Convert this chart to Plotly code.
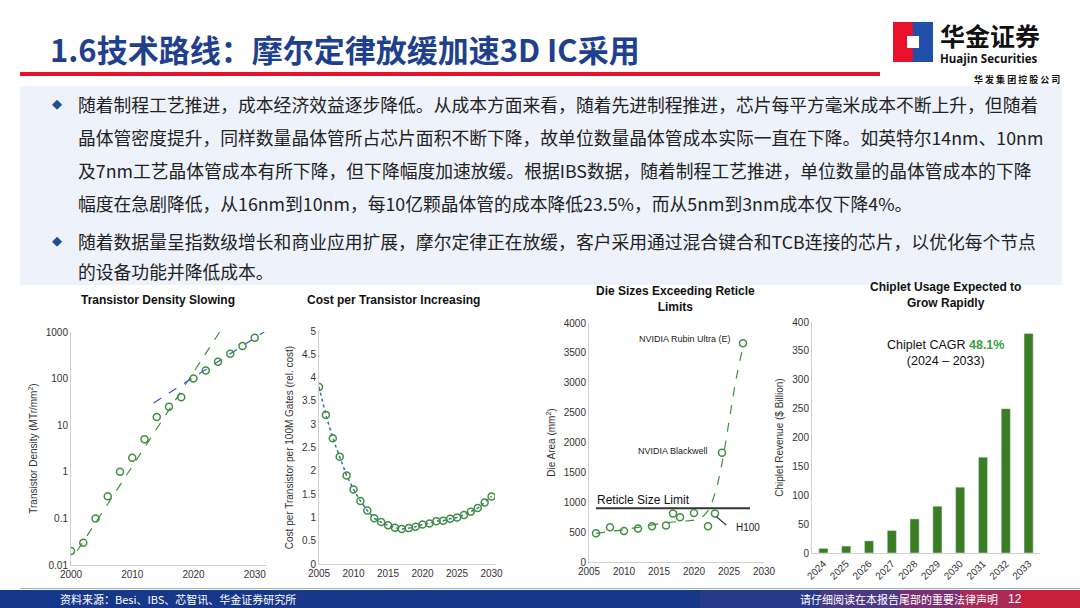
import plotly.graph_objects as go

# ---- data ----
dens_years = [2000, 2002, 2004, 2006, 2008, 2010, 2012, 2014, 2016, 2018, 2020, 2022, 2024, 2026, 2028, 2030]
dens_vals = [0.02, 0.03, 0.1, 0.3, 1, 2, 5, 15, 25, 40, 100, 150, 230, 340, 500, 750]
dens_fast_x = [2001, 2025]
dens_fast_y = [0.02, 1400]
dens_slow_x = [2013.5, 2032]
dens_slow_y = [30, 1100]

cost_years = list(range(2005, 2031))
cost_vals = [3.8, 3.2, 2.7, 2.3, 1.9, 1.6, 1.35, 1.15, 0.98, 0.9, 0.83, 0.78, 0.75, 0.77, 0.8,
             0.85, 0.87, 0.92, 0.93, 0.97, 1.0, 1.05, 1.12, 1.2, 1.32, 1.45]

die_years = [2006, 2008, 2010, 2012, 2014, 2016, 2017, 2018, 2020, 2022, 2023, 2024, 2027]
die_vals = [480, 580, 520, 560, 600, 610, 810, 750, 820, 600, 810, 1830, 3660]
die_trend_x = [2006, 2008, 2010, 2012, 2014, 2016, 2018, 2020, 2021, 2022, 2023, 2024, 2025, 2026, 2027]
die_trend_y = [480, 510, 540, 580, 620, 655, 680, 700, 740, 860, 1150, 1650, 2350, 3050, 3600]
reticle_x = [2006, 2028]
reticle_y = [900, 900]

chip_years = ['2024', '2025', '2026', '2027', '2028', '2029', '2030', '2031', '2032', '2033']
chip_vals = [8, 12, 21, 39, 59, 81, 114, 166, 250, 380]

W, H = 1080, 608
FONT = 'Liberation Sans, Arial, sans-serif'
CJK = 'Noto Sans CJK SC, sans-serif'
GREEN = '#3f8f3f'


def px(x):
    return x / W


def py(y):
    return 1 - y / H


fig = go.Figure()

# chart 1
fig.add_trace(go.Scatter(x=dens_fast_x, y=dens_fast_y, mode='lines', xaxis='x', yaxis='y',
                         line=dict(color=GREEN, dash='dash', width=1.2)))
fig.add_trace(go.Scatter(x=dens_slow_x, y=dens_slow_y, mode='lines', xaxis='x', yaxis='y',
                         line=dict(color='#4050e0', dash='dash', width=1.2)))
fig.add_trace(go.Scatter(x=dens_years, y=dens_vals, mode='markers', xaxis='x', yaxis='y',
                         marker=dict(symbol='circle-open', size=7, color=GREEN, line=dict(width=1.5))))
# chart 2
fig.add_trace(go.Scatter(x=cost_years, y=cost_vals, mode='lines+markers', xaxis='x2', yaxis='y2',
                         line=dict(color='#3070a0', dash='dot', width=1.5),
                         marker=dict(symbol='circle-open', size=7, color=GREEN, line=dict(width=1.5))))
# chart 3
fig.add_trace(go.Scatter(x=reticle_x, y=reticle_y, mode='lines', xaxis='x3', yaxis='y3',
                         line=dict(color='#333333', width=2)))
fig.add_trace(go.Scatter(x=die_trend_x, y=die_trend_y, mode='lines', xaxis='x3', yaxis='y3',
                         line=dict(color=GREEN, dash='dash', width=1.2, shape='spline')))
fig.add_trace(go.Scatter(x=die_years, y=die_vals, mode='markers', xaxis='x3', yaxis='y3',
                         marker=dict(symbol='circle-open', size=7, color=GREEN, line=dict(width=1.5))))
# chart 4
fig.add_trace(go.Bar(x=chip_years, y=chip_vals, xaxis='x4', yaxis='y4', marker_color='#3a7d22', width=0.4))

tick = dict(family=FONT, size=10, color='#333')
ax = dict(showgrid=False, zeroline=False, showline=True, linecolor='#d0d0d0', ticks='', tickfont=tick,
          automargin=False)
ttl = dict(family=FONT, size=10, color='#333')

fig.update_layout(
    width=W, height=H, margin=dict(l=0, r=0, t=0, b=0), showlegend=False,
    paper_bgcolor='white', plot_bgcolor='rgba(0,0,0,0)',
    xaxis=dict(ax, domain=[px(71), px(267)], range=[2000, 2032], tickvals=[2000, 2010, 2020, 2030], anchor='y'),
    yaxis=dict(ax, domain=[py(565), py(332)], type='log', range=[-2, 3], anchor='x',
               tickvals=[0.01, 0.1, 1, 10, 100, 1000], ticktext=['0.01', '0.1', '1', '10', '100', '1000'],
               title=dict(text='Transistor Density (MTr/mm<sup>2</sup>)', font=ttl, standoff=6)),
    xaxis2=dict(ax, domain=[px(319), px(495)], range=[2005, 2030.5], dtick=5, anchor='y2'),
    yaxis2=dict(ax, domain=[py(564), py(331)], range=[0, 5], dtick=0.5, anchor='x2',
                title=dict(text='Cost per Transistor per 100M Gates (rel. cost)', font=ttl, standoff=6)),
    xaxis3=dict(ax, domain=[px(589), px(764)], range=[2005, 2030], dtick=5, anchor='y3'),
    yaxis3=dict(ax, domain=[py(562), py(323)], range=[0, 4000], dtick=500, anchor='x3',
                title=dict(text='Die Area (mm<sup>2</sup>)', font=ttl, standoff=6)),
    xaxis4=dict(ax, domain=[px(812), px(1040)], tickangle=-45, anchor='y4'),
    yaxis4=dict(ax, domain=[py(553), py(322)], range=[0, 400], dtick=50, anchor='x4',
                title=dict(text='Chiplet Revenue ($ Billion)', font=ttl, standoff=6)),
)


def rect(x0, x1, y0, y1, c, layer='below'):
    fig.add_shape(type='rect', xref='paper', yref='paper', x0=px(x0), x1=px(x1), y0=py(y1), y1=py(y0),
                  fillcolor=c, line_width=0, layer=layer)


rect(20, 1062, 86, 285, '#eef2fb')
rect(20, 880, 72, 76, '#e8102a')
rect(893, 913, 22, 62, '#e8102a', 'above')
rect(913, 933, 22, 62, '#1f4fa8', 'above')
rect(907, 919, 36, 48, 'white', 'above')
rect(20, 1080, 588, 589, '#9fb0d0')
# footer band, blue fading to red on the right
steps = [('#17378a', 0, 700), ('#263a8c', 700, 820), ('#4a3a86', 820, 900), ('#7a3070', 900, 960),
         ('#a82a55', 960, 1020), ('#c8203c', 1020, 1080)]
for c, a, b in steps:
    rect(a, b, 590, 608, c)


def txt(x, y, s, size, color='#222', bold=False, family=FONT, xanchor='left', **kw):
    if bold:
        s = '<b>' + s + '</b>'
    fig.add_annotation(x=px(x), y=py(y), xref='paper', yref='paper', text=s, showarrow=False,
                       xanchor=xanchor, yanchor='middle', font=dict(family=family, size=size, color=color), **kw)


txt(48, 48, '1.6技术路线：摩尔定律放缓加速3D IC采用', 31, '#1f3f8f', True, CJK)
txt(938, 35, '华金证券', 25, '#111', True, CJK)
txt(938, 58, 'Huajin Securities', 11.5, '#111', True, 'Open Sans, sans-serif')
txt(1062, 79, '华 发 集 团 控 股 公 司', 9, '#111', True, CJK, xanchor='right')

body = [
    (104, True, '随着制程工艺推进，成本经济效益逐步降低。从成本方面来看，随着先进制程推进，芯片每平方毫米成本不断上升，但随着'),
    (137, False, '晶体管密度提升，同样数量晶体管所占芯片面积不断下降，故单位数量晶体管成本实际一直在下降。如英特尔14nm、10nm'),
    (170, False, '及7nm工艺晶体管成本有所下降，但下降幅度加速放缓。根据IBS数据，随着制程工艺推进，单位数量的晶体管成本的下降'),
    (203, False, '幅度在急剧降低，从16nm到10nm，每10亿颗晶体管的成本降低23.5%，而从5nm到3nm成本仅下降4%。'),
    (241, True, '随着数据量呈指数级增长和商业应用扩展，摩尔定律正在放缓，客户采用通过混合键合和TCB连接的芯片，以优化每个节点'),
    (271, False, '的设备功能并降低成本。'),
]
for y, bullet, s in body:
    if bullet:
        txt(50, y, '◆', 13, '#1f4f8f', family='DejaVu Sans')
    txt(76, y, s, 17.8, '#222', family=CJK)

txt(158, 300, 'Transistor Density Slowing', 12, '#111', True, xanchor='center')
txt(393, 300, 'Cost per Transistor Increasing', 12, '#111', True, xanchor='center')
txt(675, 299, 'Die Sizes Exceeding Reticle<br>Limits', 12, '#111', True, xanchor='center')
txt(945, 295, 'Chiplet Usage Expected to<br>Grow Rapidly', 12, '#111', True, xanchor='center')

txt(637, 339, 'NVIDIA Rubin Ultra (E)', 9, '#222')
txt(636, 451, 'NVIDIA Blackwell', 9, '#222')
txt(734, 527, 'H100', 10, '#222')
txt(595, 500, 'Reticle Size Limit', 12, '#111')
fig.add_shape(type='line', xref='x3', yref='y3', x0=2023.2, y0=760, x1=2024.6, y1=620,
              line=dict(color='#333', width=1.2))
txt(945, 353, 'Chiplet CAGR <b><span style="color:#3aa040">48.1%</span></b><br>(2024 – 2033)', 12.5, '#111',
    xanchor='center')

txt(58, 599, '资料来源：Besi、IBS、芯智讯、华金证券研究所', 11, 'white', family=CJK)
txt(1000, 599, '请仔细阅读在本报告尾部的重要法律声明', 11, 'white', family=CJK, xanchor='right')
txt(1024, 599, '12', 12, 'white', xanchor='right')

fig.write_html('out.html', config={'displayModeBar': False},
               post_script="document.body.style.margin='0';")
